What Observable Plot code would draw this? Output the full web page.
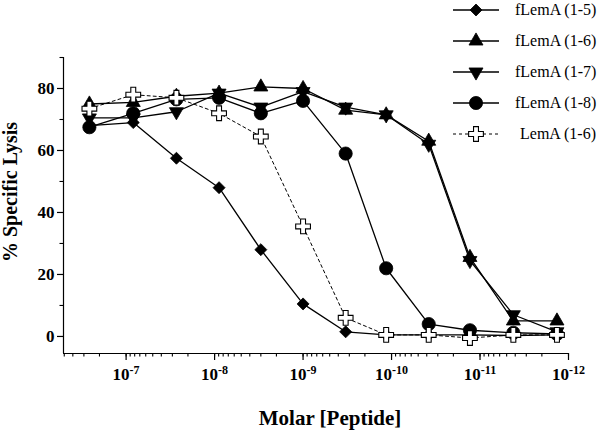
<!DOCTYPE html>
<html>
<head>
<meta charset="utf-8">
<script src="https://cdn.jsdelivr.net/npm/d3@7"></script>
<script src="https://cdn.jsdelivr.net/npm/@observablehq/plot@0.6"></script>
<style>
  body { margin: 0; background: #fff; }
  #wrap { position: relative; width: 600px; height: 430px; font-family: "Liberation Serif", "Times New Roman", serif; background: #fff; }
  #wrap svg text { font-family: "Liberation Serif", "Times New Roman", serif !important; }
</style>
</head>
<body>
<div id="wrap"></div>
<script>
// ---- data ----
const concentrations = [2.6e-7, 8.3e-8, 2.7e-8, 8.9e-9, 3.0e-9, 1.0e-9, 3.3e-10, 1.15e-10, 3.8e-11, 1.3e-11, 4.2e-12, 1.35e-12];
const seriesNames = ["fLemA (1-5)", "fLemA (1-6)", "fLemA (1-7)", "fLemA (1-8)", "LemA (1-6)"];
const lysis_fLemA_1_5 = [68, 69, 57.5, 48, 28, 10.5, 1.5, 0.5, 0.5, 0.5, 0.3, 0.5];
const lysis_fLemA_1_6 = [75, 75.5, 77.5, 78.5, 80.5, 80, 73, 71.5, 63, 25.5, 5, 5];
const lysis_fLemA_1_7 = [70.5, 70.5, 72.5, 78.5, 74, 79, 74, 71.5, 62, 24.5, 7, 1.5];
const lysis_fLemA_1_8 = [67.5, 72, 76.5, 77, 72, 76, 59, 22, 4, 2, 1.2, 0.8];
const lysis_LemA_1_6 = [73.5, 78, 77, 72, 64.5, 35.5, 6, 0.5, 0.5, -0.5, 0.5, 0.5];
const xTickValues = [1e-7, 1e-8, 1e-9, 1e-10, 1e-11, 1e-12];
const xTickExponents = ["-7", "-8", "-9", "-10", "-11", "-12"];
const yTickValues = [0, 20, 40, 60, 80];
const yMinorTickValues = [10, 30, 50, 70, 90];
const xDomain = [5.1e-7, 1e-12];
const yDomain = [-5.5, 90];

// ---- styling per series ----
const FONT = "'Liberation Serif', 'Times New Roman', serif";
const allValues = [lysis_fLemA_1_5, lysis_fLemA_1_6, lysis_fLemA_1_7, lysis_fLemA_1_8, lysis_LemA_1_6];
const symbols = [d3.symbolDiamond2, d3.symbolTriangle, d3.symbolTriangle, d3.symbolCircle, d3.symbolCross];
const rotations = [0, 0, 180, 0, 0];
const radii = [5.4, 5.2, 5.2, 6.6, 6.2];
const fills = ["black", "black", "black", "black", "white"];
const dashes = [null, null, null, null, "3,3"];

const rows = [];
seriesNames.forEach((s, si) => {
  allValues[si].forEach((v, i) => rows.push({series: s, si, conc: concentrations[i], lysis: v}));
});

const minorTicks = d3.scaleLog().domain([1e-12, 5.1e-7]).ticks().filter(t => t <= xDomain[0]);

const lineMarks = seriesNames.map((s, si) =>
  Plot.line(rows.filter(r => r.si === si), {
    x: "conc", y: "lysis", stroke: "black", strokeWidth: si === 4 ? 1 : 1.3,
    strokeDasharray: dashes[si]
  })
);
const dotMarks = seriesNames.map((s, si) =>
  Plot.dot(rows.filter(r => r.si === si), {
    x: "conc", y: "lysis", symbol: symbols[si], r: radii[si], rotate: rotations[si],
    fill: fills[si], stroke: "black", strokeWidth: si === 4 ? 1.1 : 0.8
  })
);

const chart = Plot.plot({
  width: 600, height: 430,
  marginLeft: 63, marginRight: 32, marginTop: 57, marginBottom: 77,
  style: {fontFamily: FONT, background: "white", color: "black"},
  x: {type: "log", domain: xDomain},
  y: {domain: yDomain},
  marks: [
    Plot.ruleY([yDomain[0]], {stroke: "black", strokeWidth: 1.2}),
    Plot.ruleX([xDomain[0]], {stroke: "black", strokeWidth: 1.2}),
    Plot.axisX(minorTicks, {tickSize: 3.5, tickFormat: () => "", label: null, strokeWidth: 1.1}),
    Plot.axisX(xTickValues, {tickSize: 7, tickPadding: 7, label: null, strokeWidth: 1.2,
      tickFormat: d => "10^" + xTickExponents[xTickValues.indexOf(d)],
      fontSize: 17, fontWeight: "bold", fontFamily: FONT}),
    Plot.axisY(yMinorTickValues, {tickSize: 3.5, tickFormat: () => "", label: null, strokeWidth: 1.1}),
    Plot.axisY(yTickValues, {tickSize: 6, tickPadding: 3, label: null, strokeWidth: 1.2,
      fontSize: 17, fontWeight: "bold", fontFamily: FONT}),
    ...lineMarks,
    ...dotMarks
  ]
});

// superscript exponents on the x tick labels
d3.select(chart).selectAll("text").each(function() {
  const t = this.textContent;
  if (t.startsWith("10^")) {
    const exp = t.slice(3);
    const sel = d3.select(this);
    sel.text(null);
    sel.append("tspan").text("10");
    sel.append("tspan").attr("dy", "-0.45em").attr("font-size", 12).text(exp);
  }
});

// axis titles
const svg = d3.select(chart);
svg.append("text")
  .attr("transform", "translate(17,192) rotate(-90)")
  .attr("text-anchor", "middle")
  .attr("font-size", 20).attr("font-weight", "bold")
  .attr("fill", "black")
  .text("% Specific Lysis");
svg.append("text")
  .attr("x", 330).attr("y", 425)
  .attr("text-anchor", "middle")
  .attr("font-size", 21).attr("font-weight", "bold")
  .attr("fill", "black")
  .text("Molar [Peptide]");

svg.selectAll("text").style("font-family", FONT);

const wrap = document.getElementById("wrap");
wrap.appendChild(chart);

// legend overlay (upper right)
const legend = d3.select(wrap).append("div")
  .style("position", "absolute").style("left", "453px").style("top", "0px");
seriesNames.forEach((name, si) => {
  const row = legend.append("div")
    .style("position", "absolute").style("left", "0px").style("top", (si * 31) + "px")
    .style("height", "20px").style("display", "flex").style("align-items", "center")
    .style("white-space", "nowrap");
  const sw = row.append("svg").attr("width", 46).attr("height", 20);
  sw.append("line").attr("x1", 0).attr("x2", 46).attr("y1", 10).attr("y2", 10)
    .attr("stroke", "black").attr("stroke-width", si === 4 ? 1 : 1.3)
    .attr("stroke-dasharray", dashes[si]);
  sw.append("path")
    .attr("d", d3.symbol().type(symbols[si]).size(Math.PI * radii[si] * radii[si])())
    .attr("transform", `translate(23,10) rotate(${rotations[si]})`)
    .attr("fill", fills[si]).attr("stroke", "black").attr("stroke-width", si === 4 ? 1.1 : 0.8);
  row.append("span")
    .style("margin-left", (si === 4 ? 21 : 16) + "px")
    .style("font-size", "16px")
    .style("font-family", FONT)
    .text(name);
});
</script>
</body>
</html>
